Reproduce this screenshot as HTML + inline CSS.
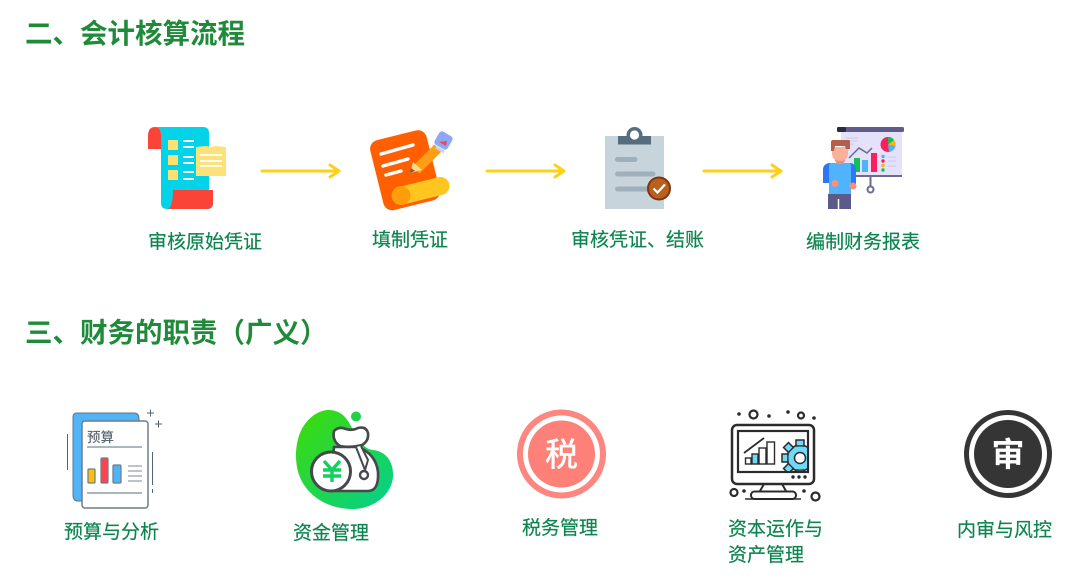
<!DOCTYPE html>
<html lang="zh">
<head>
<meta charset="utf-8">
<style>
html,body{margin:0;padding:0;background:#fff;width:1080px;height:580px;overflow:hidden}
svg{display:block}
text{font-family:"Liberation Sans","Noto Sans CJK SC",sans-serif}
.h{font-size:27.5px;font-weight:700;fill:#1f8a3a}
.l{font-size:19px;fill:#0d8450;stroke:#0d8450;stroke-width:.2px}
</style>
</head>
<body>
<svg width="1080" height="580" viewBox="0 0 1080 580" xmlns="http://www.w3.org/2000/svg">
<defs>
<linearGradient id="g" x1="0" y1="0" x2="1" y2="1"><stop offset="0" stop-color="#3fdc04"/><stop offset="1" stop-color="#02d08e"/></linearGradient>
<clipPath id="scr"><rect x="739" y="431" width="68" height="40"/></clipPath>
</defs>
<rect width="1080" height="580" fill="#fff"/>
<text class="h" x="25" y="43">二、会计核算流程</text>
<text class="h" x="25" y="342">三、财务的职责（广义）</text>

<!-- icon 1 -->
<path d="M155 127H203Q209 127 209 133V190H213V203Q213 209 207 209H167Q161 209 161 203V135Q161 127 155 127Z" fill="#02d3e8"/>
<path d="M148 149V136Q148 127 155 127Q161 127 161 135V149Z" fill="#fb4438"/>
<path d="M168 209Q173 206 173 190H213V203Q213 209 207 209Z" fill="#fb4438"/>
<g fill="#fde070"><rect x="168" y="140" width="10" height="10"/><rect x="168" y="155" width="10" height="10"/><rect x="168" y="170" width="10" height="10"/></g>
<g stroke="#fff" stroke-width="2"><path d="M183 141H194M183 147H194M183 157H194M183 163H194M183 172H194M183 179H194"/></g>
<path d="M196 147L206 146L211 147L216 146L226 147V176H196Z" fill="#fde27a"/>
<g stroke="#fff" stroke-width="1.800"><path d="M200 155H222M200 161H222M200 166H222"/></g>

<!-- arrows -->
<g fill="none" stroke="#fdd116" stroke-width="3" stroke-linecap="round" stroke-linejoin="round">
<path d="M262 171H339M330 165L339 171L330 177"/>
<path d="M487 171H564M555 165L564 171L555 177"/>
<path d="M704 171H781M772 165L781 171L772 177"/>
</g>

<!-- icon 2 -->
<rect x="376" y="134" width="58" height="72" rx="9" fill="#ff5f00" transform="rotate(-14 406 170)"/>
<path d="M402 195.500L440.500 186" stroke="#fec61f" stroke-width="18" stroke-linecap="round"/>
<circle cx="401" cy="195.500" r="9.500" fill="#ff9d0a"/>
<g stroke="#fff" stroke-width="3.400" stroke-linecap="round"><path d="M381 154L413 145M383 166L408 159M386 175L401 171"/></g>
<path d="M416 170L438 148" stroke="#ff9d14" stroke-width="10"/>
<path d="M410 173L413 162L422 170Z" fill="#f7d98f"/>
<path d="M410 173L411 168L415 171Z" fill="#8a5a2a"/>
<rect x="436" y="133" width="15" height="15" rx="3" fill="#8ea7f2" transform="rotate(30 443.500 140.500)"/>
<path d="M436 147L444 152" stroke="#c7d2f5" stroke-width="3"/>
<path d="M439 142L446 146L447 141Z" fill="#e34a5b"/>

<!-- icon 3 -->
<rect x="605" y="136" width="59" height="73" fill="#c8d4dc"/>
<circle cx="634.500" cy="135" r="8" fill="#566d7e"/>
<rect x="618" y="136" width="33" height="8.500" fill="#566d7e"/>
<circle cx="634.500" cy="135" r="4.600" fill="#fff"/>
<g stroke="#9fb0ba" stroke-width="5" stroke-linecap="round"><path d="M617.500 159.500H635M617.500 174H653M617.500 189H650"/></g>
<circle cx="659" cy="188.500" r="11" fill="#b9601d" stroke="#83330f" stroke-width="2"/>
<path d="M653.500 188.500L657.500 192.500L665 184.500" fill="none" stroke="#fff" stroke-width="2.200"/>

<!-- icon 4 -->
<rect x="841" y="131" width="61" height="45" fill="#e6e1fb"/>
<rect x="837" y="127" width="67" height="5" rx="1.500" fill="#5f5c8a"/>
<rect x="837" y="127" width="9" height="5" rx="1.500" fill="#2c2a44"/>
<rect x="850" y="175" width="52" height="2" fill="#6c6a92"/>
<path d="M870.500 177V186" stroke="#6c6a92" stroke-width="2"/>
<circle cx="870.500" cy="189.500" r="3" fill="#fff" stroke="#6c6a92" stroke-width="2"/>
<circle cx="888" cy="144.500" r="7.500" fill="#fb1f5e"/>
<path d="M888 144.500V137A7.500 7.500 0 0 1 894 140Z" fill="#10c05a"/>
<path d="M888 144.500L894 140A7.500 7.500 0 0 1 895.500 146Z" fill="#ffb400"/>
<path d="M888 144.500L895.500 146A7.500 7.500 0 0 1 889 152Z" fill="#4fb3f9"/>
<rect x="854" y="158" width="6" height="14" fill="#10c05a"/>
<rect x="862" y="160" width="6" height="12" fill="#4fb3f9"/>
<rect x="871" y="153" width="6" height="19" fill="#fb1f5e"/>
<path d="M849 158L859 148L867 153L872 148" fill="none" stroke="#6c6a92" stroke-width="1.500"/>
<g><circle cx="883" cy="156.500" r="1.700" fill="#4fb3f9"/><circle cx="883" cy="161" r="1.700" fill="#fb1f5e"/><circle cx="883" cy="165.500" r="1.700" fill="#ffb400"/><circle cx="883" cy="170" r="1.700" fill="#10c05a"/></g>
<path d="M888 157H896M888 161H896M888 166H896" stroke="#cdc8ee" stroke-width="1"/>
<path d="M846 138H858M846 141H858M846 144H854" stroke="#cdc8ee" stroke-width="1"/>
<path d="M829 163Q823 164 823 170V183H831V163ZM851 163Q856 164 856 170V184H850V163Z" fill="#2c78f2"/>
<path d="M832 163H849Q851 163 851 166V194H829V166Q829 163 832 163Z" fill="#50b3ff"/>
<rect x="828" y="194" width="23" height="15" fill="#5c5a88"/>
<path d="M838.500 209V199" stroke="#fff" stroke-width="1.500"/>
<path d="M835 155H845V161Q840 168 835 161Z" fill="#f38d79"/>
<path d="M832 147H848V153Q848 161 840 161Q832 161 832 153Z" fill="#fbb09a"/>
<path d="M831 151V142Q831 140 833 140H849Q850 140 850 142V149H846L845 146H835L834 151Z" fill="#b3604a"/>
<circle cx="835" cy="183.500" r="3.500" fill="#fb8f78"/>
<circle cx="853" cy="186" r="3.500" fill="#fb8f78"/>

<text class="l" x="148" y="248">审核原始凭证</text>
<text class="l" x="372" y="246">填制凭证</text>
<text class="l" x="571" y="246">审核凭证、结账</text>
<text class="l" x="806" y="248">编制财务报表</text>

<!-- budget -->
<path d="M77 413H134Q139 413 139 419V422H83V501H78Q73 501 73 495V417Q73 413 77 413Z" fill="#50b4f6" stroke="#5f7585" stroke-width="1"/>
<rect x="82" y="421" width="66" height="87" rx="3" fill="#fff" stroke="#6d7c88" stroke-width="1.500"/>
<text x="87" y="442" font-size="13.500" font-weight="500" fill="#5d6a74">预算</text>
<path d="M87 447H142M87 493H142" stroke="#7d8b95" stroke-width="1.300"/>
<rect x="88" y="469" width="7" height="14" rx="1" fill="#fec107" stroke="#6d7c88" stroke-width="1.200"/>
<rect x="101" y="458" width="7" height="25" rx="1" fill="#fb4550" stroke="#6d7c88" stroke-width="1.200"/>
<rect x="113" y="465" width="8" height="18" rx="1" fill="#50b4f6" stroke="#6d7c88" stroke-width="1.200"/>
<path d="M128 466H142M128 471H142M128 476H142M128 481H142" stroke="#7d8b95" stroke-width="1"/>
<path d="M67.500 434V470M152.500 452V485M152.500 489V493" stroke="#566470" stroke-width="1"/>
<path d="M147 413H154M150.500 409.500V416.500M155 424H162M158.500 420.500V427.500" stroke="#566470" stroke-width="1"/>

<!-- money bag -->
<path d="M305 424C315 410 332 405 344 416C353 425 359 449 373 450C385 451 394 461 393 477C391 497 371 510 350 509C323 508 301 491 297 467C294 450 298 433 305 424Z" fill="url(#g)"/>
<circle cx="356" cy="416.500" r="5" fill="#1fd24a"/>
<path d="M334 447H358Q376 454 378 472Q379 491 368 491H330Z" fill="#fff" stroke="#46484c" stroke-width="2.600"/>
<path d="M334 431Q339 426 346 429Q352 431 358 428Q366 426 368 433Q369 441 362 445Q350 448 340 446Q332 441 334 431Z" fill="#fff" stroke="#46484c" stroke-width="2.600"/>
<path d="M356 447L365 470L368 460L361 446" fill="#fff" stroke="#46484c" stroke-width="2"/>
<circle cx="364" cy="475" r="4" fill="#fff" stroke="#46484c" stroke-width="2.400"/>
<circle cx="331" cy="471.500" r="19.500" fill="#fff" stroke="#46484c" stroke-width="3"/>
<path d="M324 461L332 470L340 461M323 470H341M323 476H341M332 470V482" fill="none" stroke="#10d05e" stroke-width="3.400"/>

<!-- tax -->
<circle cx="561.500" cy="454" r="41.500" fill="#fff" stroke="#fd8680" stroke-width="6"/>
<circle cx="561.500" cy="454" r="33.500" fill="#fd8079"/>
<text x="561.500" y="466" text-anchor="middle" font-size="33" fill="#fff" font-weight="500">税</text>

<!-- monitor -->
<rect x="732" y="425" width="82" height="59" rx="5" fill="#fff" stroke="#2b2b2b" stroke-width="2.500"/>
<rect x="738" y="431" width="70" height="41" fill="#fff" stroke="#2b2b2b" stroke-width="2.200"/>
<path d="M744 453L764 438" stroke="#2b2b2b" stroke-width="1.800"/>
<rect x="745.500" y="458" width="5.500" height="6" fill="#fff" stroke="#2b2b2b" stroke-width="1.400"/>
<rect x="752" y="454" width="6" height="10" fill="#70d8f8" stroke="#2b2b2b" stroke-width="1.400"/>
<rect x="759" y="448" width="7" height="16" fill="#fff" stroke="#2b2b2b" stroke-width="1.400"/>
<rect x="767" y="442" width="7.500" height="22" fill="#fff" stroke="#2b2b2b" stroke-width="1.400"/>
<g clip-path="url(#scr)">
<circle cx="800" cy="458" r="13" fill="#70d8f8" stroke="#2b2b2b" stroke-width="1.500"/>
<g fill="#70d8f8" stroke="#2b2b2b" stroke-width="1.500">
<rect x="796" y="440" width="8" height="6"/>
<rect x="782" y="454" width="6" height="8"/>
<rect x="796" y="470" width="8" height="4"/>
<rect x="785" y="444" width="7" height="7" transform="rotate(45 788.500 447.500)"/>
<rect x="785" y="465" width="7" height="7" transform="rotate(45 788.500 468.500)"/>
</g>
<circle cx="800" cy="458" r="11.500" fill="#70d8f8"/>
<circle cx="800" cy="458" r="5.500" fill="#fff" stroke="#2b2b2b" stroke-width="1.500"/>
</g>
<g fill="#2b2b2b"><circle cx="793" cy="477" r="1.700"/><circle cx="799" cy="477" r="1.700"/><circle cx="805" cy="477" r="1.700"/>
<circle cx="739" cy="414" r="1.800"/><circle cx="769" cy="416" r="1.800"/><circle cx="788" cy="412" r="1.800"/><circle cx="814" cy="418" r="1.800"/><circle cx="744" cy="491" r="1.800"/><circle cx="804" cy="491" r="1.800"/></g>
<g fill="#fff" stroke="#2b2b2b" stroke-width="2.200"><circle cx="753.500" cy="414.500" r="4"/><circle cx="801" cy="415.500" r="3"/><circle cx="734" cy="492.500" r="3.500"/><circle cx="815.500" cy="496.500" r="4"/></g>
<path d="M764 484L760 491M782 484L786 491" stroke="#2b2b2b" stroke-width="2"/>
<rect x="751" y="491.500" width="45" height="7.500" rx="3.500" fill="#fff" stroke="#2b2b2b" stroke-width="2"/>
<path d="M745 499H801" stroke="#2b2b2b" stroke-width="1.500"/>

<!-- audit -->
<circle cx="1008" cy="454" r="41.500" fill="#fff" stroke="#353535" stroke-width="5"/>
<circle cx="1008" cy="454" r="34" fill="#353535"/>
<text x="1008" y="466" text-anchor="middle" font-size="33" fill="#fff" font-weight="700">审</text>

<text class="l" x="64" y="538">预算与分析</text>
<text class="l" x="293" y="539">资金管理</text>
<text class="l" x="522" y="534">税务管理</text>
<text class="l" x="728" y="535">资本运作与</text>
<text class="l" x="728" y="561">资产管理</text>
<text class="l" x="957" y="536">内审与风控</text>
</svg>
</body>
</html>
